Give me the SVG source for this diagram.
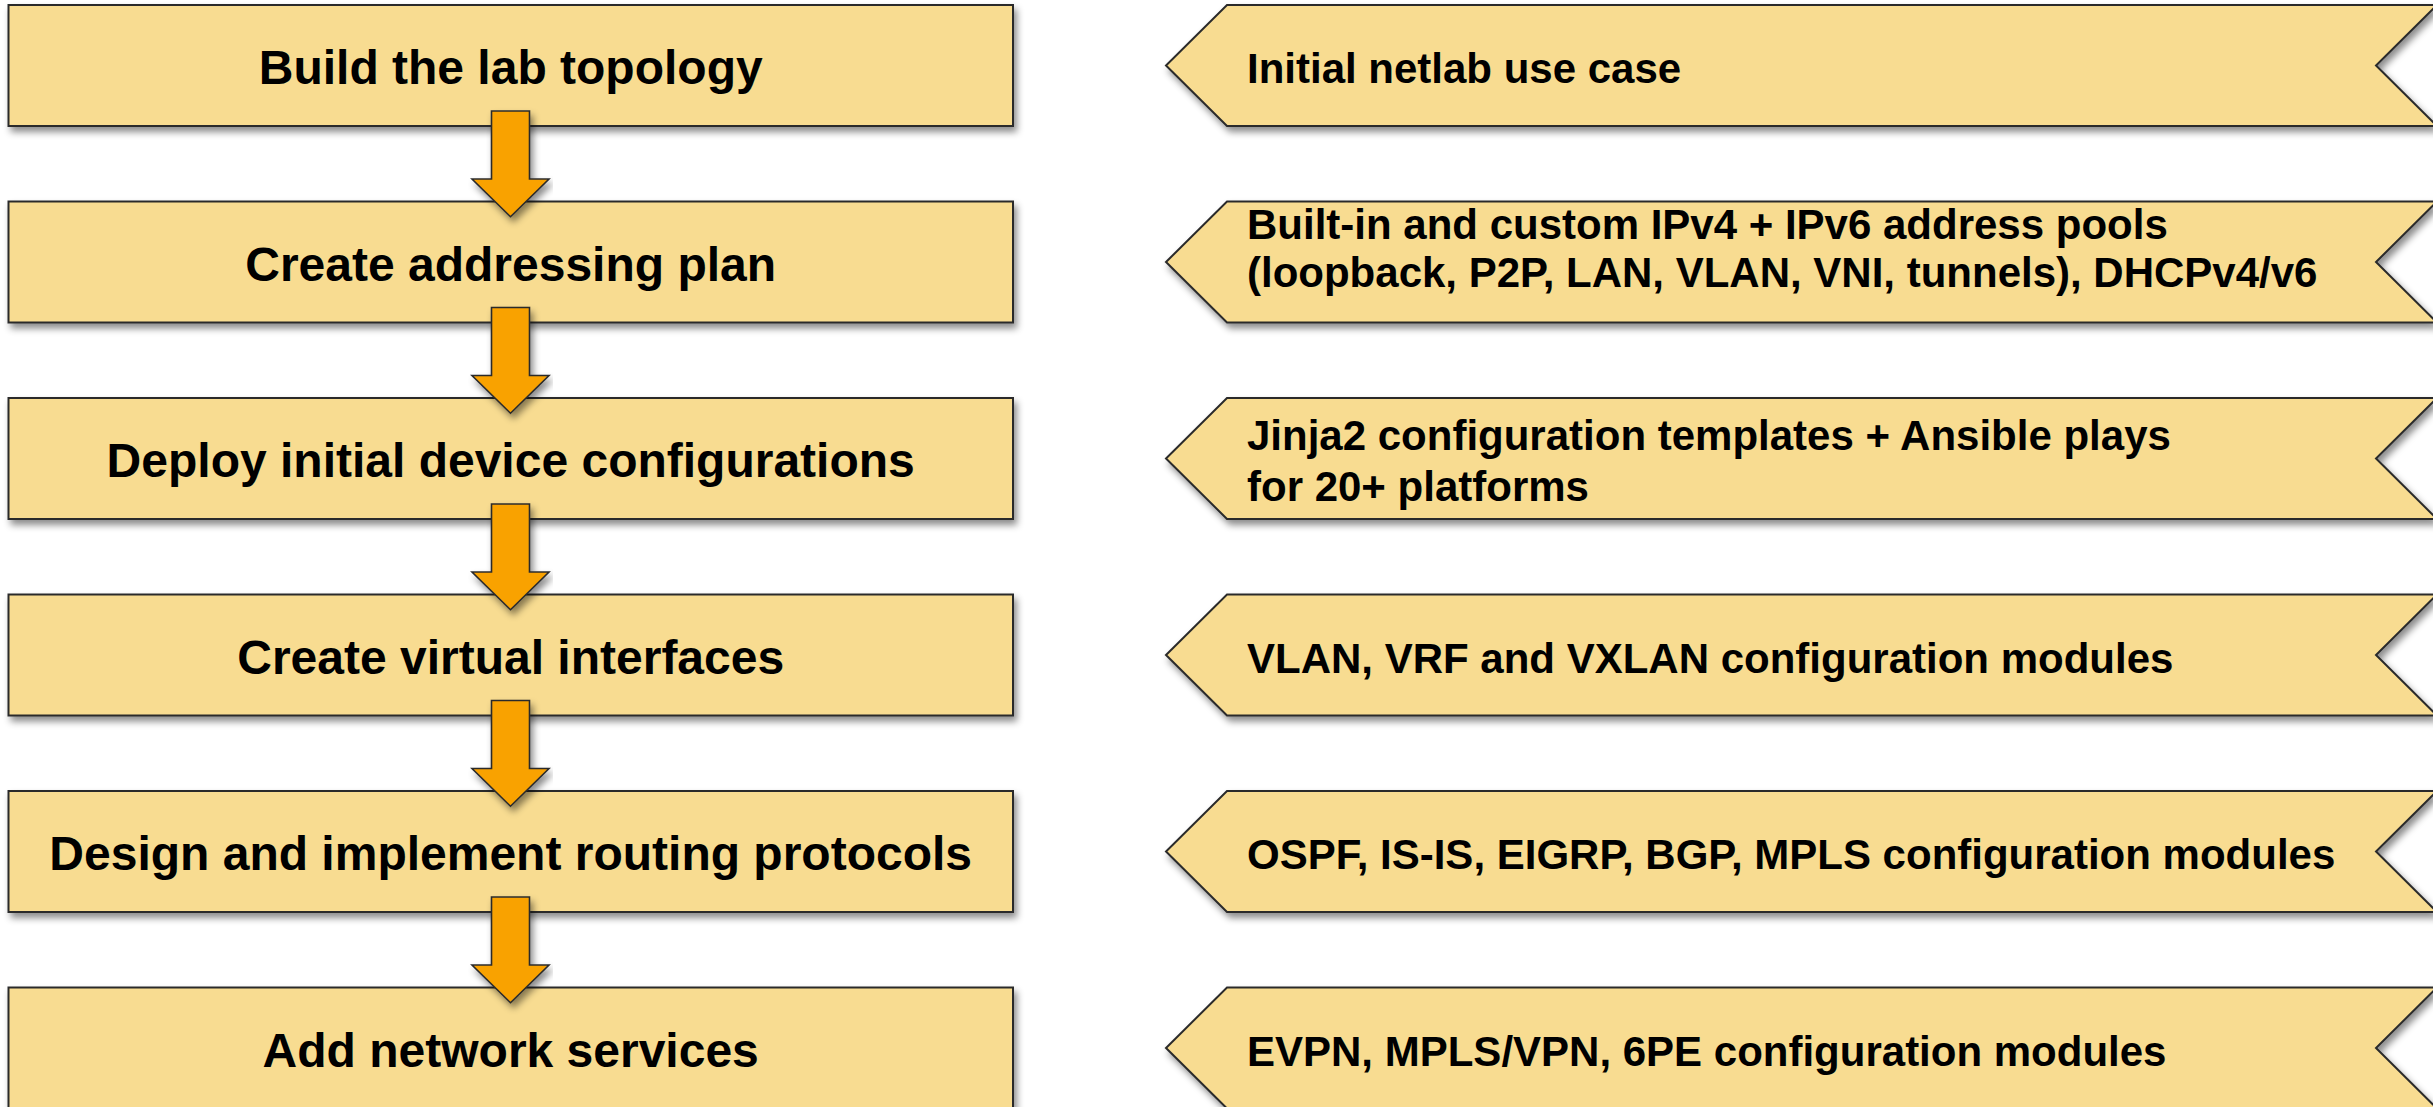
<svg xmlns="http://www.w3.org/2000/svg" width="2433" height="1107" viewBox="0 0 2433 1107">
  <defs>
    <filter id="shadow" x="-5%" y="-20%" width="110%" height="150%">
      <feDropShadow dx="3" dy="5" stdDeviation="3.5" flood-color="#000" flood-opacity="0.45"/>
    </filter>
    <!-- flow arrow between two steps, origin at top-left of the upper step -->
    <path id="flow-arrow" d="M 491.5 106 H 529.5 V 174 H 549 L 510.5 211.7 L 472 174 H 491.5 Z"/>
  </defs>
  <style>
    .step { fill: #F8DC91; stroke: #2b2b2b; stroke-width: 2; filter: url(#shadow); }
    .arrow { fill: #F9A200; stroke: #2b2b2b; stroke-width: 1.6; stroke-linejoin: miter; filter: url(#shadow); }
    .step-label { font-family: "Liberation Sans", Arial, sans-serif; font-weight: bold; font-size: 48px; fill: #000; text-anchor: middle; }
    .note-label { font-family: "Liberation Sans", Arial, sans-serif; font-weight: bold; font-size: 42px; fill: #000; }
  </style>

  <rect width="2433" height="1107" fill="#fff"/>

  <!-- process steps (left column) -->
  <g id="step-topology">
    <rect class="step" x="8.5" y="5" width="1004.5" height="121"/>
    <text class="step-label" x="510.7" y="84">Build the lab topology</text>
  </g>
  <g id="step-addressing">
    <rect class="step" x="8.5" y="201.5" width="1004.5" height="121"/>
    <text class="step-label" x="510.7" y="280.5">Create addressing plan</text>
  </g>
  <g id="step-deploy">
    <rect class="step" x="8.5" y="398" width="1004.5" height="121"/>
    <text class="step-label" x="510.7" y="477">Deploy initial device configurations</text>
  </g>
  <g id="step-interfaces">
    <rect class="step" x="8.5" y="594.5" width="1004.5" height="121"/>
    <text class="step-label" x="510.7" y="673.5">Create virtual interfaces</text>
  </g>
  <g id="step-routing">
    <rect class="step" x="8.5" y="791" width="1004.5" height="121"/>
    <text class="step-label" x="510.7" y="870">Design and implement routing protocols</text>
  </g>
  <g id="step-services">
    <rect class="step" x="8.5" y="987.5" width="1004.5" height="121"/>
    <text class="step-label" x="510.7" y="1066.5">Add network services</text>
  </g>

  <!-- netlab features (right column, banner shapes) -->
  <g id="note-usecase">
    <path class="step" d="M 1227 5 H 2437 L 2376 65.5 L 2437 126 H 1227 L 1166 65.5 Z"/>
    <text class="note-label" x="1247" y="83">Initial netlab use case</text>
  </g>
  <g id="note-pools">
    <path class="step" d="M 1227 201.5 H 2437 L 2376 262 L 2437 322.5 H 1227 L 1166 262 Z"/>
    <text class="note-label" x="1247" y="239">Built-in and custom IPv4 + IPv6 address pools</text>
    <text class="note-label" x="1247" y="287">(loopback, P2P, LAN, VLAN, VNI, tunnels), DHCPv4/v6</text>
  </g>
  <g id="note-templates">
    <path class="step" d="M 1227 398 H 2437 L 2376 458.5 L 2437 519 H 1227 L 1166 458.5 Z"/>
    <text class="note-label" x="1247" y="450">Jinja2 configuration templates + Ansible plays</text>
    <text class="note-label" x="1247" y="501">for 20+ platforms</text>
  </g>
  <g id="note-virtual">
    <path class="step" d="M 1227 594.5 H 2437 L 2376 655 L 2437 715.5 H 1227 L 1166 655 Z"/>
    <text class="note-label" x="1247" y="672.5">VLAN, VRF and VXLAN configuration modules</text>
  </g>
  <g id="note-routing">
    <path class="step" d="M 1227 791 H 2437 L 2376 851.5 L 2437 912 H 1227 L 1166 851.5 Z"/>
    <text class="note-label" x="1247" y="869">OSPF, IS-IS, EIGRP, BGP, MPLS configuration modules</text>
  </g>
  <g id="note-services">
    <path class="step" d="M 1227 987.5 H 2437 L 2376 1048 L 2437 1108.5 H 1227 L 1166 1048 Z"/>
    <text class="note-label" x="1247" y="1065.5">EVPN, MPLS/VPN, 6PE configuration modules</text>
  </g>

  <!-- flow connectors between steps -->
  <g id="connectors">
    <use href="#flow-arrow" class="arrow" y="5"/>
    <use href="#flow-arrow" class="arrow" y="201.5"/>
    <use href="#flow-arrow" class="arrow" y="398"/>
    <use href="#flow-arrow" class="arrow" y="594.5"/>
    <use href="#flow-arrow" class="arrow" y="791"/>
  </g>
</svg>
